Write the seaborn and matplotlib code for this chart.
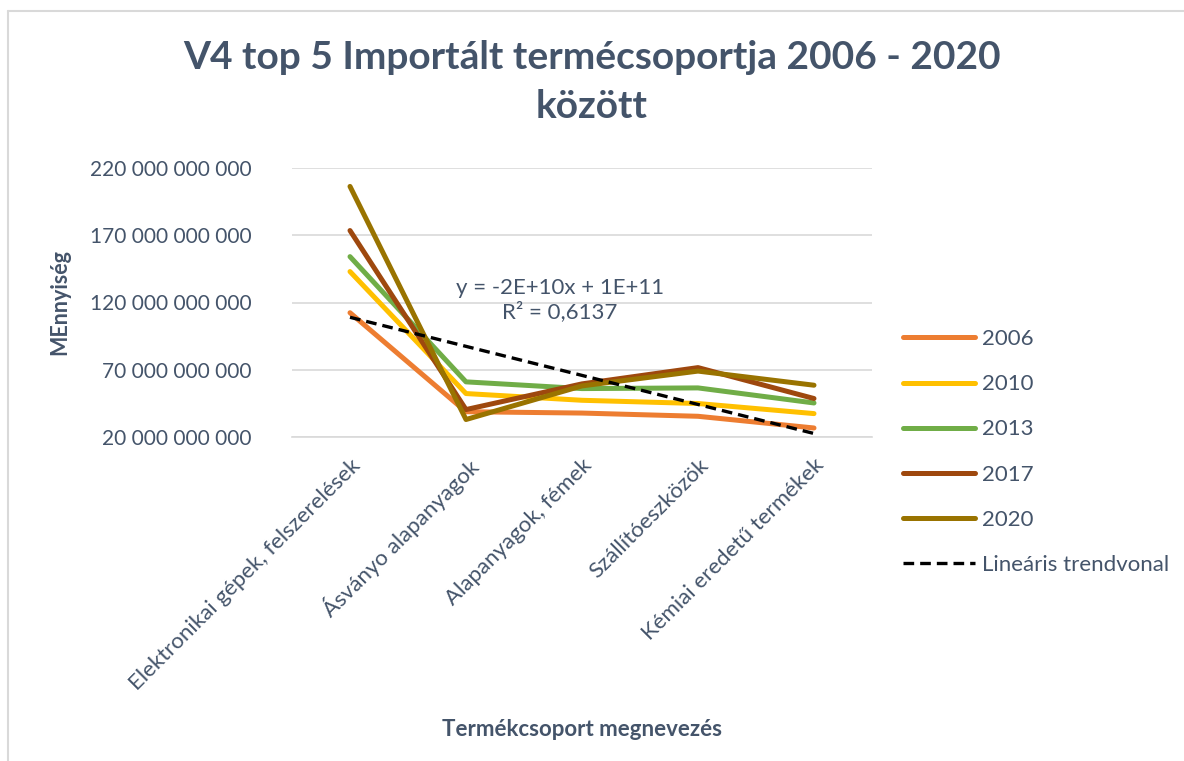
import numpy as np
import pandas as pd
import seaborn as sns
import matplotlib.pyplot as plt
from matplotlib.lines import Line2D
from matplotlib.ticker import FuncFormatter, FixedLocator

# adatok (a kepről leolvasva, milliard egysegben)
kategoriak = ["Elektronikai gépek, felszerelések", "Ásványo alapanyagok",
              "Alapanyagok, fémek", "Szállítóeszközök", "Kémiai eredetű termékek"]
evek = ["2006", "2010", "2013", "2017", "2020"]
v2006 = [112.4, 38.8, 37.8, 35.4, 26.7]
v2010 = [143.0, 52.3, 47.3, 44.9, 37.4]
v2013 = [154.1, 61.0, 56.0, 56.5, 45.3]
v2017 = [173.5, 40.4, 59.5, 71.6, 48.6]
v2020 = [206.3, 33.0, 58.0, 69.0, 58.5]
# trendvonal (y = meredekseg*x + tengelymetszet, x = 1..5)
trend_meredekseg = -21.6
trend_metszet = 130.6

szinek = ["#ED7D31", "#FFC000", "#70AD47", "#9E480E", "#997300"]
szoveg = "#44546A"
racs = "#D9D9D9"

sorok = []
for ev, ertekek in zip(evek, [v2006, v2010, v2013, v2017, v2020]):
    for k, v in zip(kategoriak, ertekek):
        sorok.append({"kategoria": k, "ev": ev, "ertek": v * 1e9})
df = pd.DataFrame(sorok)

sns.set_style("white")
plt.rcParams['font.family'] = ['Lato', 'DejaVu Sans']

fig = plt.figure(figsize=(11.84, 7.61), dpi=100)
ax = fig.add_axes([292/1184, 1-437/761, 580/1184, 269/761])

sns.lineplot(data=df, x="kategoria", y="ertek", hue="ev", palette=szinek,
             linewidth=3.6, sort=False, ax=ax, legend=False,
             solid_capstyle="round", solid_joinstyle="round")

x_trend = np.arange(len(kategoriak))
y_trend = (trend_meredekseg * (x_trend + 1) + trend_metszet) * 1e9
ax.plot(x_trend, y_trend, color="black", linestyle=(0, (3.2, 1.8)), linewidth=2.4)

ax.set_xlim(-0.5, len(kategoriak) - 0.5)
ax.set_ylim(20e9, 220e9)
ax.set_yticks(np.arange(20e9, 221e9, 50e9))
ax.yaxis.set_major_formatter(FuncFormatter(lambda v, p: f"{v:,.0f}".replace(",", " ")))
ax.grid(axis="y", color=racs, linewidth=1.2)
for s in ["top", "right", "left"]:
    ax.spines[s].set_visible(False)
ax.spines["bottom"].set_color(racs)
ax.spines["bottom"].set_linewidth(1.2)

ax.set_xticks(x_trend)
ax.set_xticklabels(kategoriak, rotation=45, ha="right", rotation_mode="anchor")
ax.xaxis.set_minor_locator(FixedLocator(np.arange(-0.5, len(kategoriak), 1.0)))
ax.tick_params(axis="x", which="major", length=0, pad=13, labelsize=16, labelcolor=szoveg)
ax.tick_params(axis="x", which="minor", length=6, width=1.2, color=racs, direction="out")
ax.tick_params(axis="y", length=0, pad=29, labelsize=15, labelcolor=szoveg)

ax.set_xlabel("Termékcsoport megnevezés", fontsize=16, fontweight="bold", color=szoveg)
ax.xaxis.set_label_coords(0.5, -1.05)
ax.set_ylabel("MEnnyiség", fontsize=15.5, fontweight="bold", color=szoveg)
ax.yaxis.set_label_coords(-0.383, 0.5)

fig.text(0.5, 0.948, "V4 top 5 Importált termécsoportja 2006 - 2020\nközött",
         ha="center", va="top", fontsize=28, fontweight="bold", color=szoveg, linespacing=1.5)

ax.text(1.81, 121.9e9, "y = -2E+10x + 1E+11\nR² = 0,6137", ha="center", va="center",
        fontsize=16, color=szoveg, linespacing=1.15)

kezelok = [Line2D([0], [0], color=c, linewidth=3.6, solid_capstyle="round") for c in szinek]
kezelok.append(Line2D([0], [0], color="black", linewidth=2.4, linestyle=(0, (3.2, 1.8))))
fig.legend(kezelok, evek + ["Lineáris trendvonal"], loc="center left",
           bbox_to_anchor=(903/1184, 1-452/761), frameon=False, fontsize=16,
           handlelength=3.25, handletextpad=0.3, labelspacing=1.13, borderpad=0,
           borderaxespad=0, labelcolor=szoveg)

# kulso keret
fig.add_artist(Line2D([8/1184, 1], [1-11/761, 1-11/761], color=racs, linewidth=1.5))
fig.add_artist(Line2D([8/1184, 8/1184], [0, 1-11/761], color=racs, linewidth=1.5))

fig.savefig("out.png", dpi=100)
